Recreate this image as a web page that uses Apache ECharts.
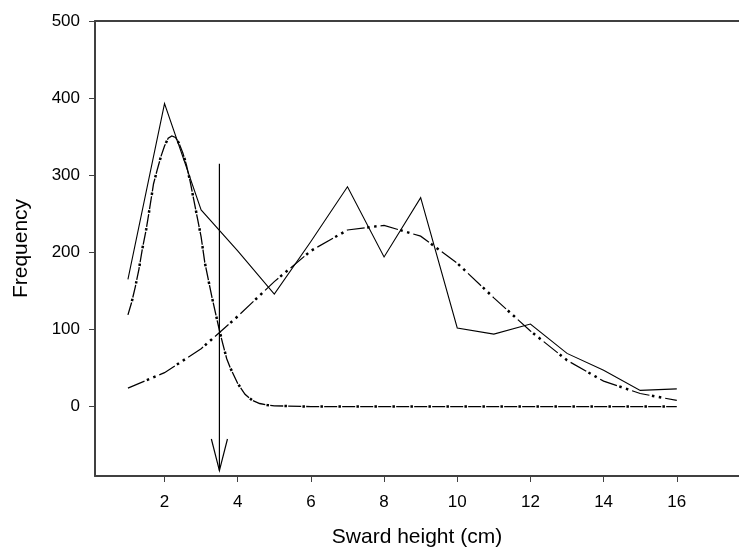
<!DOCTYPE html>
<html><head><meta charset="utf-8">
<script src="https://cdn.jsdelivr.net/npm/echarts@6/dist/echarts.min.js"></script>
<style>html,body{margin:0;padding:0;background:#fff}#c{width:739px;height:554px}</style>
</head><body><div id="c"></div>
<script>
// Observed frequency (solid line)
const obsX = [1,2,3,4,5,6,7,8,9,10,11,12,13,14,15,16];
const obsY = [165,393,255,202,146,214,285,194,271,102,94,107,69,47,21,23];
// Broad fitted component (dash-dot-dot)
const broadX = [1,2,3,4,5,6,7,8,9,10,11,12,13,14,15,16];
const broadY = [24,44,75,117,162,202,229,235,221,186,141,98,60,33,17,8];
// Narrow fitted component (dashed)
const narrowX = [1.0,1.1,1.2,1.3,1.4,1.5,1.6,1.7,1.8,1.9,2.0,2.1,2.2,2.3,2.4,2.5,2.6,2.7,2.8,2.9,3.0,3.1,3.2,3.3,3.4,3.5,3.6,3.7,3.8,3.9,4.0,4.2,4.4,4.6,4.8,5.0,6,7,8,9,10,11,12,13,14,15,16];
const narrowY = [119,135,155,178,206,230,259,289,307,324,338,348,351,349,341,329,313,292,268,244,220,187,164,141,120,99,80,62,50,40,30,16,8,4,2,1,0,0,0,0,0,0,0,0,0,0,0];
// Arrow marking the threshold at 3.5 cm
const arrowShaft = [[3.5,315],[3.5,-83]];
const arrowHead = [[3.28,-42],[3.5,-83],[3.72,-42]];
// Ticks
const xTicks = [2,4,6,8,10,12,14,16];
const yTicks = [0,100,200,300,400,500];

const zip = (xs, ys) => xs.map((x,i)=>[x, ys[i]]);
const font = 'Liberation Sans, Arial, sans-serif';
const axisCol = '#404040';

function lineSeries(data, style, z) {
  return {type:'line', data, showSymbol:false, symbol:'none', silent:true, animation:false, z:z||2,
    lineStyle:Object.assign({color:'#000', width:1, cap:'butt', join:'miter'}, style)};
}

const chart = echarts.init(document.getElementById('c'), null, {renderer:'canvas'});
chart.setOption({
  animation:false,
  grid:{left:95, right:0, top:21, bottom:78, containLabel:false},
  xAxis:[{
    type:'value', min:0.1, max:17.7,
    name:'Sward height (cm)', nameLocation:'middle', nameGap:51,
    nameTextStyle:{fontFamily:font, fontSize:21, color:'#000'},
    axisLine:{show:true, onZero:false, lineStyle:{color:axisCol, width:2}},
    axisTick:{show:true, length:6, customValues:xTicks, lineStyle:{color:axisCol, width:1}},
    axisLabel:{show:true, customValues:xTicks, margin:18, fontFamily:font, fontSize:17, color:'#000'},
    splitLine:{show:false}
  },{
    type:'value', position:'top', min:0.1, max:17.7,
    axisLine:{show:true, onZero:false, lineStyle:{color:axisCol, width:2}},
    axisTick:{show:false}, axisLabel:{show:false}, splitLine:{show:false}
  }],
  yAxis:{
    type:'value', min:-90, max:500,
    name:'Frequency', nameLocation:'middle', nameGap:63,
    nameTextStyle:{fontFamily:font, fontSize:21, color:'#000'},
    axisLine:{show:true, onZero:false, lineStyle:{color:axisCol, width:2}},
    axisTick:{show:true, length:6, customValues:yTicks, lineStyle:{color:axisCol, width:1}},
    axisLabel:{show:true, customValues:yTicks, margin:15, fontFamily:font, fontSize:17, color:'#000'},
    splitLine:{show:false}
  },
  series:[
    lineSeries(zip(obsX, obsY), {width:1.1}),
    lineSeries(zip(broadX, broadY), {width:1.2, type:[18,16], dashOffset:0}),
    lineSeries(zip(broadX, broadY), {width:2.5, type:[2.5,4.5,2.5,24.5], dashOffset:13.5}),
    lineSeries(zip(narrowX, narrowY), {width:1.3, type:[13,5], dashOffset:0}),
    lineSeries(zip(narrowX, narrowY), {width:2.5, type:[2.5,15.5], dashOffset:3.75}),
    lineSeries(arrowShaft, {width:1.2}),
    lineSeries(arrowHead, {width:1.2})
  ]
});
</script></body></html>
